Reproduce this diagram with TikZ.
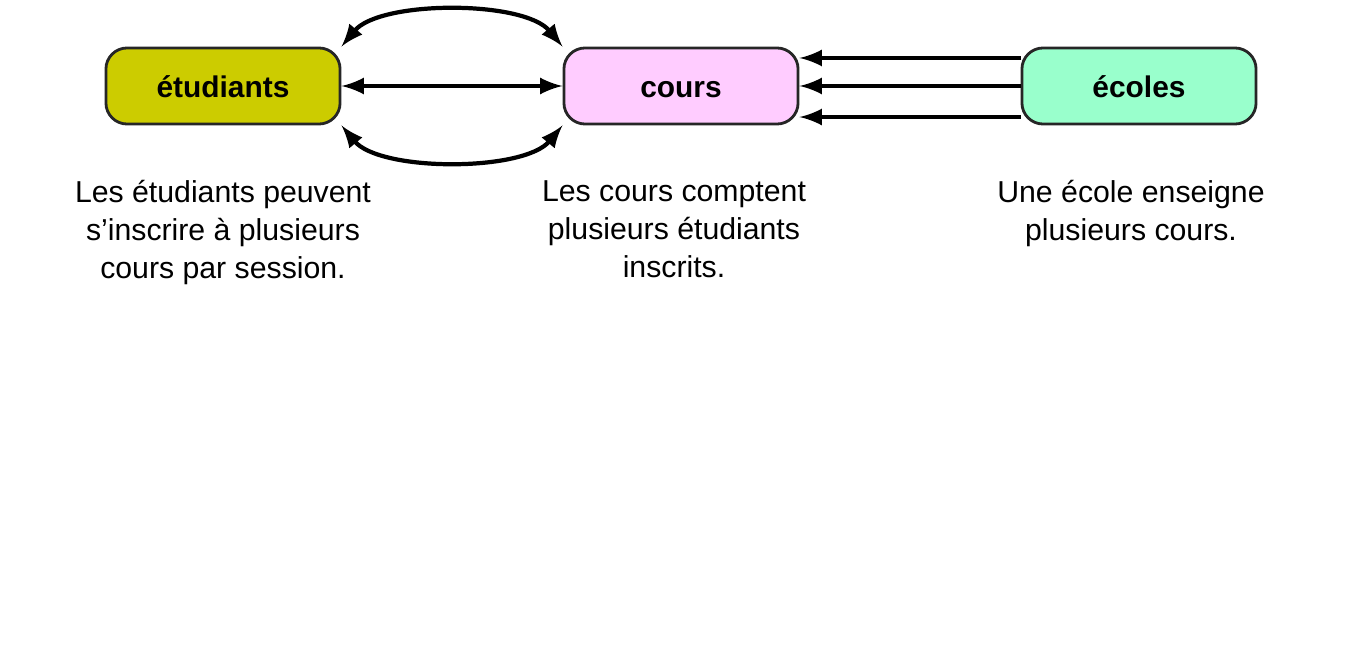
\documentclass[tikz,border=0pt]{standalone}
\usepackage{fontspec}
\setmainfont{Liberation Sans}
\usetikzlibrary{positioning}
\tikzset{>=stealth}
\definecolor{olive}{HTML}{CCCC00}
\definecolor{rose}{HTML}{FFCCFF}
\definecolor{menthe}{HTML}{99FFCC}

\begin{document}
\begin{tikzpicture}[x=0.01cm, y=-0.01cm,
    boite/.style={draw=black!85, thick, rounded corners=6pt, minimum width=2.34cm, minimum height=0.76cm, text height=1.5ex, text depth=.25ex, font=\fontsize{8.5}{10}\selectfont\bfseries},
    texte/.style={align=center, font=\fontsize{8.6}{10.8}\selectfont},
    fleche/.style={very thick, >=latex}]
    \useasboundingbox (0,0) rectangle (1364,664);
    \node[boite, fill=olive] (etu) at (223,86) {étudiants};
    \node[boite, fill=rose] (cours) at (681,86) {cours};
    \node[boite, fill=menthe] (ecoles) at (1139,86) {écoles};
    \node[texte, anchor=north] (t1) at (223,168) {Les étudiants peuvent\\s\char39 inscrire à plusieurs\\cours par session.};
    \node[texte, anchor=north] (t2) at (674,168) {Les cours comptent\\plusieurs étudiants\\inscrits.};
    \node[texte, anchor=north] (t3) at (1131,168) {Une école enseigne\\plusieurs cours.};
    \draw[fleche, <->] (etu) -- (cours);
    \draw[fleche, <->] (etu.north east) .. controls (380,0) and (524,0) .. (cours.north west);
    \draw[fleche, <->] (etu.south east) .. controls (380,172) and (524,172) .. (cours.south west);
    \draw[fleche, ->] (ecoles.west) -- (cours.east);
    \draw[fleche, ->] ([yshift=0.28cm]ecoles.west) -- ([yshift=0.28cm]cours.east);
    \draw[fleche, ->] ([yshift=-0.31cm]ecoles.west) -- ([yshift=-0.31cm]cours.east);
\end{tikzpicture}
\end{document}
